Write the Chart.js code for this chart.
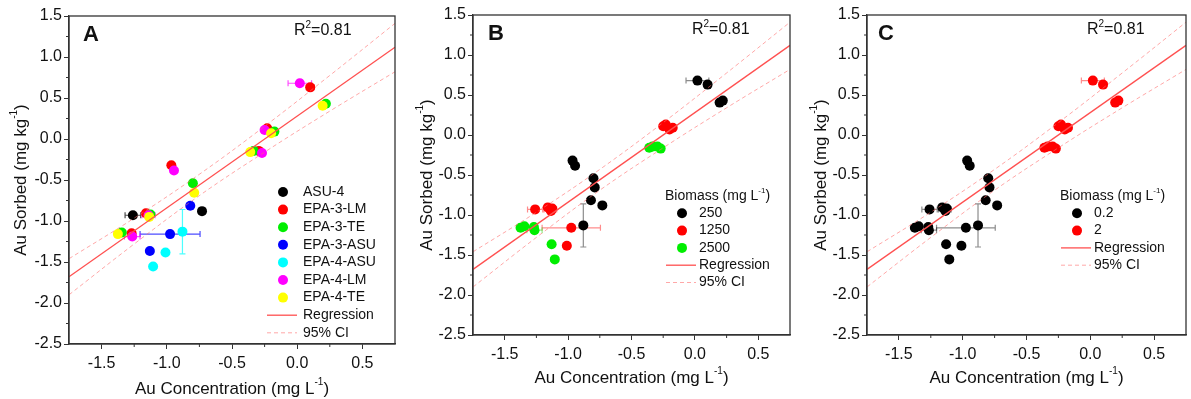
<!DOCTYPE html>
<html>
<head>
<meta charset="utf-8">
<script src="https://cdn.jsdelivr.net/npm/chart.js@4.4.1/dist/chart.umd.min.js"></script>
<style>
  body { margin: 0; background: #fff; width: 1191px; height: 399px; overflow: hidden; position: relative; }
  .panel { position: absolute; top: 0; height: 399px; }
</style>
</head>
<body>
<div class="panel" style="left:0;width:400px"><canvas id="chartA"></canvas></div>
<div class="panel" style="left:400px;width:395px"><canvas id="chartB"></canvas></div>
<div class="panel" style="left:795px;width:396px"><canvas id="chartC"></canvas></div>
<script>
// measured points (log Au concentration vs log Au sorbed), same 32 points in every panel
const pointX = [-1.26, -0.73,
  -1.16, -1.27, -0.965, 0.10, -0.23, -0.295,
  -1.125, -1.345, -0.80, 0.22, -0.175, -0.335,
  -0.975, -0.82, -1.13,
  -0.88, -1.01, -1.105,
  -1.265, -0.945, 0.02, -0.25, -0.27, -1.14,
  -1.135, -1.375, -0.79, 0.195, -0.20, -0.36];
const pointY = [-0.93, -0.88,
  -0.905, -1.15, -0.32, 0.63, 0.13, -0.145,
  -0.92, -1.14, -0.54, 0.43, 0.09, -0.145,
  -1.16, -0.815, -1.365,
  -1.13, -1.385, -1.555,
  -1.19, -0.385, 0.68, 0.11, -0.17, -0.93,
  -0.95, -1.16, -0.655, 0.405, 0.07, -0.16];
const errX = [0.06, 0,
  0, 0, 0, 0.03, 0, 0,
  0, 0, 0, 0, 0, 0,
  0.23, 0, 0,
  0, 0, 0,
  0.06, 0, 0.09, 0, 0, 0.05,
  0, 0, 0, 0, 0, 0];
const errY = [0, 0,
  0, 0, 0, 0, 0, 0,
  0, 0, 0, 0, 0, 0,
  0, 0, 0,
  0.27, 0, 0,
  0, 0, 0.04, 0, 0, 0,
  0, 0, 0, 0, 0, 0];
// group of each point in panel A (sorbent), B (biomass) and C (biomass)
const groupA = [0, 0, 1, 1, 1, 1, 1, 1, 2, 2, 2, 2, 2, 2, 3, 3, 3, 4, 4, 4, 5, 5, 5, 5, 5, 5, 6, 6, 6, 6, 6, 6];
const groupB = [1, 0, 1, 2, 0, 0, 1, 2, 1, 2, 0, 0, 1, 2, 1, 0, 2, 0, 1, 2, 2, 0, 0, 1, 2, 1, 1, 2, 0, 0, 1, 2];
const groupC = [0, 0, 0, 0, 0, 1, 1, 1, 0, 0, 0, 1, 1, 1, 0, 0, 0, 0, 0, 0, 0, 0, 1, 1, 1, 0, 0, 0, 0, 1, 1, 1];

const labelsA = ['ASU-4', 'EPA-3-LM', 'EPA-3-TE', 'EPA-3-ASU', 'EPA-4-ASU', 'EPA-4-LM', 'EPA-4-TE'];
const labelsB = ['250', '1250', '2500'];
const labelsC = ['0.2', '2'];
const colorsA = ['#000000', '#ff0000', '#00ee00', '#0000ff', '#00ffff', '#ff00ff', '#ffff00'];
const colorsB = ['#000000', '#ff0000', '#00ee00'];
const colorsC = ['#000000', '#ff0000'];

// regression line and 95% confidence band
const regX = [-1.75, 0.75];
const regY = [-1.68, 1.12];
const ciX = [-1.75, -1.25, -0.75, -0.25, 0.25, 0.75];
const ciUpper = [-1.46, -0.965, -0.43, 0.155, 0.775, 1.41];
const ciLower = [-1.90, -1.28, -0.69, -0.16, 0.34, 0.82];

// axes
const xMin = -1.75, xMax = 0.75, yMin = -2.5, yMax = 1.5;
const xTicks = [-1.5, -1.0, -0.5, 0.0, 0.5];
const yTicks = [-2.5, -2.0, -1.5, -1.0, -0.5, 0.0, 0.5, 1.0, 1.5];
const rSquared = '0.81';

const FONT = '"Liberation Sans", Arial, sans-serif';

function drawRich(ctx, parts, x, y, size, align) {
    // parts: [text, isSuperscript]
    let total = 0;
    parts.forEach(([t, sup]) => {
        ctx.font = (sup ? Math.round(size * 0.6) : size) + 'px ' + FONT;
        total += ctx.measureText(t).width;
    });
    let cx = align === 'center' ? x - total / 2 : x;
    ctx.textAlign = 'left';
    ctx.textBaseline = 'middle';
    parts.forEach(([t, sup]) => {
        ctx.font = (sup ? Math.round(size * 0.6) : size) + 'px ' + FONT;
        ctx.fillText(t, cx, sup ? y - size * 0.38 : y);
        cx += ctx.measureText(t).width;
    });
}

const errorBars = {
    id: 'errorBars',
    beforeDatasetsDraw(chart) {
        const { ctx, scales: { x, y } } = chart;
        ctx.save();
        ctx.lineWidth = 1.2;
        chart.data.datasets.forEach(ds => {
            if (!ds.errX) return;
            ctx.strokeStyle = ds.errColor;
            ds.data.forEach((p, j) => {
                const px = x.getPixelForValue(p.x), py = y.getPixelForValue(p.y);
                ctx.beginPath();
                if (ds.errX[j]) {
                    const l = x.getPixelForValue(p.x - ds.errX[j]), r = x.getPixelForValue(p.x + ds.errX[j]);
                    ctx.moveTo(l, py); ctx.lineTo(r, py);
                    ctx.moveTo(l, py - 3); ctx.lineTo(l, py + 3);
                    ctx.moveTo(r, py - 3); ctx.lineTo(r, py + 3);
                }
                if (ds.errY[j]) {
                    const t = y.getPixelForValue(p.y + ds.errY[j]), b = y.getPixelForValue(p.y - ds.errY[j]);
                    ctx.moveTo(px, t); ctx.lineTo(px, b);
                    ctx.moveTo(px - 3, t); ctx.lineTo(px + 3, t);
                    ctx.moveTo(px - 3, b); ctx.lineTo(px + 3, b);
                }
                ctx.stroke();
            });
        });
        ctx.restore();
    }
};

const decor = {
    id: 'decor',
    afterDraw(chart, args, opts) {
        const { ctx, chartArea: a, scales: { x, y } } = chart;
        ctx.save();
        // frame
        ctx.strokeStyle = '#333';
        ctx.lineWidth = 1.3;
        ctx.strokeRect(a.left, a.top, a.right - a.left, a.bottom - a.top);
        // minor ticks halfway between the labelled ones
        ctx.lineWidth = 1;
        ctx.beginPath();
        xTicks.concat([xTicks[0] - 0.5]).forEach(v => {
            const m = v + 0.25;
            if (m <= xMin || m >= xMax) return;
            const px = x.getPixelForValue(m);
            ctx.moveTo(px, a.bottom); ctx.lineTo(px, a.bottom + 3);
        });
        yTicks.forEach(v => {
            const m = v + 0.25;
            if (m >= yMax) return;
            const py = y.getPixelForValue(m);
            ctx.moveTo(a.left, py); ctx.lineTo(a.left - 3, py);
        });
        ctx.stroke();

        ctx.fillStyle = '#111';
        // axis titles
        drawRich(ctx, [['Au Concentration (mg L', false], ['-1', true], [')', false]],
            (a.left + a.right) / 2, a.bottom + opts.xTitleGap, 17, 'center');
        ctx.save();
        ctx.translate(a.left - opts.yTitleGap, (a.top + a.bottom) / 2);
        ctx.rotate(-Math.PI / 2);
        drawRich(ctx, [['Au Sorbed (mg kg', false], ['-1', true], [')', false]], 0, 0, 17, 'center');
        ctx.restore();

        // panel letter and R2
        ctx.font = 'bold 22px ' + FONT;
        ctx.textAlign = 'left';
        ctx.textBaseline = 'middle';
        ctx.fillText(opts.letter, a.left + opts.letterX, a.top + 19);
        drawRich(ctx, [['R', false], ['2', true], ['=' + rSquared, false]], a.left + opts.r2X, a.top + 15, 16, 'left');

        // legend
        let ly = a.top + opts.legendY;
        const mx = a.left + opts.legendX;
        if (opts.legendTitle) {
            drawRich(ctx, [['Biomass (mg L', false], ['-1', true], [')', false]], mx - 17, ly, 14, 'left');
            ly += opts.legendStep;
        }
        opts.entries.forEach(([label, color]) => {
            ctx.fillStyle = color;
            ctx.beginPath();
            ctx.arc(mx, ly, 5, 0, Math.PI * 2);
            ctx.fill();
            ctx.fillStyle = '#111';
            ctx.font = '14px ' + FONT;
            ctx.fillText(label, mx + opts.textGap, ly);
            ly += opts.legendStep;
        });
        ctx.strokeStyle = '#ff5050';
        ctx.lineWidth = 1.3;
        ctx.beginPath(); ctx.moveTo(mx - 16, ly); ctx.lineTo(mx + 14, ly); ctx.stroke();
        ctx.fillText('Regression', mx + opts.textGap, ly);
        ly += opts.legendStep;
        ctx.strokeStyle = 'rgba(255,110,110,0.6)';
        ctx.lineWidth = 1;
        ctx.setLineDash([4, 3]);
        ctx.beginPath(); ctx.moveTo(mx - 16, ly); ctx.lineTo(mx + 14, ly); ctx.stroke();
        ctx.setLineDash([]);
        ctx.fillText('95% CI', mx + opts.textGap, ly);
        ctx.restore();
    }
};

function buildDatasets(groups, labels, colors, errAlpha) {
    const sets = labels.map((label, g) => {
        const idx = pointX.map((_, i) => i).filter(i => groups[i] === g);
        return {
            type: 'scatter',
            label: label,
            data: idx.map(i => ({ x: pointX[i], y: pointY[i] })),
            errX: idx.map(i => errX[i]),
            errY: idx.map(i => errY[i]),
            errColor: Chart.helpers.color(colors[g]).alpha(errAlpha).rgbString(),
            backgroundColor: colors[g],
            borderWidth: 0,
            pointRadius: 5,
            pointHoverRadius: 5,
            order: 10 + labels.length - g
        };
    });
    sets.push({
        type: 'line', label: 'Regression',
        data: regX.map((v, i) => ({ x: v, y: regY[i] })),
        borderColor: '#ff5050', borderWidth: 1.3, pointRadius: 0, order: 1
    });
    sets.push({
        type: 'line', label: '95% CI upper',
        data: ciX.map((v, i) => ({ x: v, y: ciUpper[i] })),
        borderColor: 'rgba(255,110,110,0.6)', borderWidth: 1, borderDash: [4, 3],
        pointRadius: 0, tension: 0.4, order: 2
    });
    sets.push({
        type: 'line', label: '95% CI lower',
        data: ciX.map((v, i) => ({ x: v, y: ciLower[i] })),
        borderColor: 'rgba(255,110,110,0.6)', borderWidth: 1, borderDash: [4, 3],
        pointRadius: 0, tension: 0.4, order: 2
    });
    return sets;
}

function makePanel(id, datasets, layout, decorOpts) {
    return new Chart(document.getElementById(id), {
        type: 'scatter',
        data: { datasets: datasets },
        options: {
            responsive: true,
            maintainAspectRatio: false,
            animation: false,
            events: [],
            layout: { padding: { left: 0, top: layout.top, right: layout.right, bottom: 0 } },
            scales: {
                x: {
                    type: 'linear', min: xMin, max: xMax,
                    afterBuildTicks: s => { s.ticks = xTicks.map(v => ({ value: v })); },
                    afterFit: s => { s.height = layout.xHeight; },
                    ticks: { padding: 5, color: '#111',
                        font: { family: FONT, size: 16 }, callback: v => v.toFixed(1) },
                    grid: { drawOnChartArea: false, tickLength: 5, color: '#333' },
                    border: { color: '#333', width: 1.3 }
                },
                y: {
                    type: 'linear', min: yMin, max: yMax,
                    afterBuildTicks: s => { s.ticks = yTicks.map(v => ({ value: v })); },
                    afterFit: s => { s.width = layout.yWidth; },
                    ticks: { padding: 2, color: '#111',
                        font: { family: FONT, size: 16 }, callback: v => v.toFixed(1) },
                    grid: { drawOnChartArea: false, tickLength: 5, color: '#333' },
                    border: { color: '#333', width: 1.3 }
                }
            },
            plugins: { legend: { display: false }, tooltip: { enabled: false }, decor: decorOpts }
        },
        plugins: [errorBars, decor]
    });
}

makePanel('chartA', buildDatasets(groupA, labelsA, colorsA, 0.7),
    { top: 16, right: 3, xHeight: 55, yWidth: 69 },
    { letter: 'A', letterX: 14, r2X: 225, xTitleGap: 45, yTitleGap: 48,
      legendX: 214, legendY: 176, legendStep: 17.6, textGap: 20,
      entries: labelsA.map((l, i) => [l, colorsA[i]]) });

makePanel('chartB', buildDatasets(groupB, labelsB, colorsB, 0.45),
    { top: 15, right: 3, xHeight: 64, yWidth: 73 },
    { letter: 'B', letterX: 15, r2X: 219, xTitleGap: 43, yTitleGap: 46,
      legendTitle: true, legendX: 209, legendY: 181, legendStep: 17.3, textGap: 17,
      entries: labelsB.map((l, i) => [l, colorsB[i]]) });

makePanel('chartC', buildDatasets(groupC, labelsC, colorsC, 0.45),
    { top: 15, right: 4, xHeight: 64, yWidth: 72 },
    { letter: 'C', letterX: 11, r2X: 220, xTitleGap: 43, yTitleGap: 46,
      legendTitle: true, legendX: 210, legendY: 181, legendStep: 17.3, textGap: 17,
      entries: labelsC.map((l, i) => [l, colorsC[i]]) });
</script>
</body>
</html>
